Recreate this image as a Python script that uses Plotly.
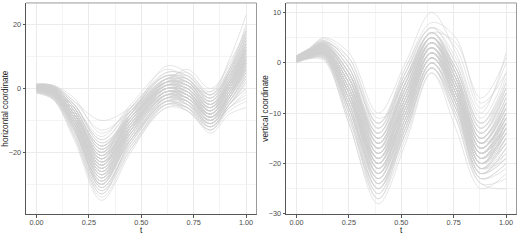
import plotly.graph_objects as go

# ---- data ----
t_horizontal = [0, 0.08, 0.18, 0.31, 0.45, 0.62, 0.72, 0.83, 0.92, 1.0]
horizontal_curves = [
    [0.5, -0.5, -8, -22, -10, 0, -2, -8, 0, 8],
    [1.0, 0.2, -6, -18, -8, 2, 0, -6, 2, 12],
    [-0.5, -2, -11, -28, -14, -2, -4, -10, -3, 5],
    [0.0, -1, -9, -25, -12, -1, -3, -9, -1, 9],
    [1.2, 1.0, -4, -10, -6, 3, 1, -1, 8, 18],
    [-1.0, -3, -14, -32, -17, -4, -6, -12, -5, 2],
    [0.3, -1.5, -10, -26, -11, 1, -1, -7, 1, 10],
    [0.8, 0, -7, -20, -9, 3, 2, -5, 3, 14],
    [-0.2, -1.8, -12, -30, -15, -3, -5, -11, -4, 3],
    [0.6, -0.8, -8, -23, -13, -2, -1, -6, 2, 13],
    [-1.5, -3.5, -16, -35, -20, -5, -6, -13, -6, -2],
    [0.2, -1, -9, -24, -8, 4, 3, -4, 4, 16],
    [1.5, 0.8, -5, -16, -6, 5, 4, -3, 6, 20],
    [0.0, -1.2, -10, -27, -16, -4, -7, -13, -7, -4],
    [-0.8, -2.5, -13, -29, -13, 0, -2, -9, -2, 7],
    [0.4, -0.6, -8, -21, -7, 2, 1, -5, 2, 11],
    [0.9, 0.3, -6, -19, -10, 1, 0, -7, 0, 9],
    [-0.3, -2, -11, -27, -12, -1, -3, -8, 0, 10],
    [0.7, -0.2, -7, -22, -9, 3, 5, -2, 9, 23],
    [-0.6, -2.2, -12, -31, -18, -6, -7, -12, -6, -1],
    [0.1, -1, -9, -24, -11, 0, -2, -8, -1, 8],
    [1.1, 0.5, -5, -17, -9, 2, 1, -6, 1, 12],
    [-1.2, -3, -14, -33, -16, -3, -4, -11, -4, 4],
    [0.5, -0.7, -9, -23, -10, 1, -1, -9, -3, 6],
    [0.0, -1.5, -10, -26, -14, -3, -4, -10, -2, 9],
    [0.9, 0, -7, -20, -6, 4, 2, -4, 5, 17],
    [-0.4, -2, -12, -28, -12, 0, -1, -7, 1, 11],
    [0.3, -0.8, -8, -22, -11, -1, -3, -10, -4, 5],
    [0.6, -0.3, -7, -21, -8, 2, 6, 0, 7, 19],
    [-0.9, -2.8, -13, -30, -14, -2, -4, -12, -5, 3],
    [0.2, -1.2, -10, -25, -13, -2, -3, -9, -2, 8],
    [1.3, 0.6, -5, -15, -5, 6, 3, -3, 5, 15],
    [-0.1, -1.6, -11, -27, -15, -4, -6, -14, -8, -6],
    [0.4, -0.5, -8, -22, -9, 1, -1, -7, 1, 11],
    [0.8, 0.1, -6, -19, -7, 3, 2, -5, 4, 14],
    [-0.7, -2.4, -12, -29, -16, -5, -7, -13, -5, 1],
    [0.1, -1.1, -9, -24, -10, 0, -2, -8, 0, 10],
    [0.5, -0.6, -8, -23, -12, -1, -2, -6, 3, 15],
    [-0.3, -1.9, -11, -28, -13, -1, -3, -9, -3, 6],
    [1.0, 0.4, -6, -18, -8, 7, 5, -1, 6, 18],
    [0.0, -1.3, -10, -26, -12, -2, -5, -11, -3, 7],
    [0.7, -0.1, -7, -21, -10, 1, 0, -6, 2, 12],
    [-0.5, -2.1, -12, -31, -17, -4, -5, -10, -2, 8],
    [0.3, -0.9, -9, -25, -11, 0, -1, -8, 0, 10],
    [0.6, -0.4, -8, -22, -9, 2, 1, -5, 3, 13],
    [0.4, -0.9, -10, -24, -12, -1, -2, -7, 1, 9],
    [1.0, 0.0, -7, -19, -9, 1, 1, -4, 3, 13],
    [-0.2, -1.5, -11, -29, -16, -3, -3, -10, -3, 6],
    [0.7, -0.4, -8, -20, -8, 3, 3, -3, 5, 16],
    [-1.1, -3.2, -15, -33, -18, -5, -5, -11, -4, 4],
    [0.2, -1.4, -10, -27, -14, -2, -3, -8, -1, 8],
    [1.3, 0.9, -4, -13, -7, 2, 2, -2, 4, 12],
    [0.0, -1.0, -9, -26, -13, -1, -2, -9, -2, 7],
    [0.5, -0.3, -7, -23, -11, 0, 0, -7, 0, 9],
    [-0.6, -2.6, -13, -32, -19, -6, -6, -12, -5, 0],
    [0.9, 0.2, -6, -18, -7, 4, 3, -4, 4, 15],
    [0.3, -0.8, -9, -24, -10, 2, 1, -6, 1, 10],
    [-0.4, -1.9, -12, -30, -15, -2, -2, -8, 1, 12],
    [0.6, -0.5, -8, -21, -9, 0, -2, -9, -4, 4],
    [1.1, 0.6, -5, -17, -8, 3, 4, -2, 6, 17],
    [0.1, -1.2, -10, -25, -12, -3, -5, -12, -6, -3],
    [-0.9, -2.7, -13, -29, -14, -1, -2, -9, -1, 9],
    [0.4, -0.6, -8, -22, -10, 2, 2, -5, 2, 12],
    [0.8, 0.0, -7, -20, -9, 0, -1, -8, -2, 6],
    [-0.2, -1.7, -11, -28, -16, -4, -4, -10, -2, 8],
    [0.5, -0.7, -9, -24, -11, 1, 1, -6, 3, 14],
    [1.4, 1.0, -3, -14, -6, 4, 2, -3, 4, 13],
    [-0.3, -2.0, -12, -31, -17, -5, -6, -11, -3, 5],
    [0.2, -1.1, -9, -23, -9, 1, 0, -7, 0, 10],
    [0.7, -0.3, -8, -21, -10, 2, 3, -4, 5, 18],
    [-0.7, -2.3, -13, -30, -13, 0, -1, -8, 0, 10],
    [0.0, -1.4, -10, -26, -14, -3, -4, -11, -5, 2],
    [0.9, 0.3, -6, -19, -8, 3, 1, -6, 1, 11],
    [0.3, -0.9, -9, -25, -12, -1, -2, -9, -2, 7],
    [-0.5, -2.0, -11, -27, -12, 1, 0, -7, 2, 13],
    [1.2, 0.7, -5, -16, -7, 2, 0, -5, 1, 9],
    [0.1, -1.3, -10, -26, -13, -2, -3, -10, -3, 6],
    [-1.3, -3.3, -15, -34, -19, -4, -4, -10, -2, 6],
    [0.6, -0.4, -8, -22, -10, 1, 2, -5, 3, 14],
    [0.4, -0.8, -9, -24, -11, 0, -1, -8, -1, 8],
    [-0.1, -1.6, -11, -28, -15, -2, -3, -9, -2, 8],
    [0.8, 0.1, -7, -20, -8, 5, 4, -2, 5, 16],
    [0.2, -1.0, -9, -23, -12, -2, -4, -11, -5, 0],
    [-0.8, -2.5, -12, -30, -16, -3, -3, -9, -1, 9],
    [1.0, 0.3, -6, -18, -9, 1, 0, -6, 2, 12],
    [0.5, -0.5, -8, -22, -9, 2, 1, -5, 2, 11],
    [-0.2, -1.8, -11, -27, -13, -1, -2, -8, 0, 10],
    [0.3, -0.7, -9, -24, -10, 0, -1, -7, 1, 10],
    [0.7, -0.2, -7, -21, -11, -1, -3, -9, -2, 7],
    [0.0, -1.4, -10, -25, -12, 0, -1, -7, 2, 12],
]

t_vertical = [0, 0.06, 0.13, 0.25, 0.39, 0.52, 0.645, 0.76, 0.88, 1.0]
vertical_curves = [
    [0.8, 1.8, 2.5, -5, -19, -8, 3, -5, -17, -10],
    [1.2, 2.5, 3.5, -2, -15, -5, 5, -2, -14, -6],
    [0.3, 1.2, 1.5, -8, -23, -11, 1, -7, -20, -14],
    [1.0, 2.0, 3.0, -4, -18, -6, 4, -4, -16, -8],
    [0.5, 1.5, 2.0, -7, -21, -10, 2, -6, -19, -12],
    [1.4, 2.8, 4.5, 0, -12, -2, 6, 0, -12, -3],
    [0.2, 1.0, 1.0, -10, -26, -14, -1, -10, -22, -18],
    [0.9, 1.9, 2.8, -5, -20, -7, 4, -3, -15, -9],
    [0.6, 1.6, 2.2, -6, -17, -4, 5, -5, -18, -11],
    [1.1, 2.3, 3.8, -3, -14, -3, 3, -8, -21, -16],
    [0.0, 0.8, 0.5, -12, -28, -16, -2, -13, -25, -22],
    [1.3, 2.6, 5.0, 2, -10, 0, 10, 2, -10, 2],
    [0.7, 1.7, 2.4, -6, -22, -9, 2, -5, -18, -13],
    [1.0, 2.1, 3.2, -3, -16, -5, 4, -2, -15, -7],
    [0.4, 1.3, 1.8, -8, -24, -12, 0, -8, -21, -15],
    [1.2, 2.4, 3.6, -2, -13, -1, 7, 3, -9, 0],
    [0.8, 1.8, 2.6, -5, -19, -8, 3, -6, -19, -12],
    [0.5, 1.4, 2.0, -7, -20, -9, 1, -7, -20, -14],
    [1.1, 2.2, 3.4, -3, -17, -6, 5, -3, -16, -9],
    [0.3, 1.1, 1.4, -9, -25, -13, -1, -9, -23, -20],
    [0.9, 2.0, 2.9, -4, -18, -7, 3, -4, -17, -10],
    [1.4, 2.7, 4.2, -1, -15, -4, 6, -1, -13, -4],
    [0.6, 1.5, 2.1, -7, -21, -10, 2, -6, -18, -11],
    [0.2, 1.0, 1.2, -10, -27, -15, -2, -11, -24, -25],
    [1.0, 2.0, 3.0, -4, -17, -5, 4, -5, -19, -15],
    [0.7, 1.7, 2.5, -6, -22, -11, 1, -5, -16, -8],
    [1.2, 2.5, 3.9, -2, -14, -3, 5, -2, -14, -5],
    [0.4, 1.3, 1.7, -8, -23, -12, 0, -9, -22, -17],
    [0.9, 1.9, 2.7, -5, -19, -8, 3, -4, -17, -11],
    [0.5, 1.5, 2.1, -6, -20, -8, 2, -7, -20, -13],
    [1.1, 2.3, 3.5, -3, -16, -4, 5, -3, -15, -7],
    [0.1, 0.9, 0.8, -11, -25, -12, 0, -8, -21, -19],
    [0.8, 1.8, 2.6, -5, -18, -6, 4, -4, -18, -12],
    [1.3, 2.6, 4.0, -1, -12, -1, 8, 5, -8, -2],
    [0.6, 1.6, 2.3, -6, -21, -9, 2, -6, -19, -14],
    [1.0, 2.1, 3.1, -4, -17, -6, 4, -3, -16, -9],
    [0.3, 1.2, 1.6, -9, -24, -13, -1, -10, -23, -21],
    [0.9, 2.0, 2.8, -4, -19, -7, 3, -5, -17, -10],
    [0.5, 1.4, 1.9, -7, -22, -10, 1, -6, -19, -13],
    [1.2, 2.4, 3.7, -2, -15, -4, 6, -2, -14, -6],
    [0.7, 1.6, 2.3, -6, -20, -9, 2, -5, -18, -12],
    [1.0, 2.2, 3.3, -3, -16, -5, 5, -4, -17, -11],
    [0.4, 1.3, 1.8, -8, -23, -11, 1, -7, -20, -16],
    [0.8, 1.9, 2.6, -5, -18, -7, 3, -5, -18, -10],
    [0.6, 1.5, 2.2, -6, -21, -10, 2, -6, -20, -13],
    [0.9, 2.0, 3.2, -3, -17, -9, 2, -6, -18, -12],
    [0.4, 1.4, 1.6, -9, -22, -8, 4, -3, -16, -9],
    [1.1, 2.4, 4.0, 1, -11, -6, 5, -1, -12, -5],
    [0.7, 1.6, 2.2, -6, -24, -14, 0, -9, -22, -17],
    [1.3, 2.7, 4.4, 0, -13, -2, 7, 1, -11, -2],
    [0.2, 1.1, 1.3, -11, -26, -12, 1, -6, -19, -12],
    [0.8, 1.9, 2.8, -4, -20, -10, 2, -7, -21, -16],
    [1.0, 2.2, 3.4, -3, -15, -3, 6, -2, -15, -8],
    [0.5, 1.5, 2.0, -7, -19, -6, 3, -4, -17, -11],
    [1.2, 2.5, 3.9, -1, -16, -8, 2, -8, -22, -19],
    [0.3, 1.2, 1.6, -9, -25, -14, -1, -11, -24, -23],
    [0.9, 2.0, 2.9, -4, -17, -5, 5, -3, -16, -10],
    [0.6, 1.6, 2.4, -6, -21, -9, 3, -5, -18, -13],
    [1.4, 2.9, 4.8, 1, -12, -3, 6, 4, -7, 1],
    [0.1, 0.9, 0.9, -12, -27, -13, 0, -7, -20, -15],
    [0.8, 1.8, 2.6, -5, -18, -8, 4, -4, -17, -11],
    [1.0, 2.1, 3.1, -3, -19, -10, 1, -7, -20, -14],
    [0.5, 1.4, 1.9, -7, -23, -12, 0, -8, -21, -18],
    [1.2, 2.5, 3.8, -2, -14, -2, 7, 0, -12, -4],
    [0.7, 1.7, 2.5, -5, -20, -8, 3, -5, -19, -13],
    [0.3, 1.1, 1.4, -9, -22, -9, 2, -5, -18, -12],
    [1.1, 2.3, 3.6, -2, -16, -6, 4, -4, -17, -10],
    [0.6, 1.5, 2.1, -6, -19, -7, 4, -3, -16, -9],
    [0.9, 1.9, 2.8, -4, -21, -11, 1, -8, -23, -20],
    [1.3, 2.6, 4.1, -1, -14, -4, 5, -1, -13, -6],
    [0.4, 1.3, 1.7, -8, -24, -13, -1, -9, -21, -15],
    [0.8, 1.8, 2.7, -5, -18, -7, 4, -5, -19, -14],
    [1.0, 2.2, 3.3, -3, -15, -5, 5, -2, -14, -7],
    [0.2, 1.0, 1.1, -10, -25, -11, 1, -7, -20, -13],
    [0.7, 1.7, 2.4, -6, -20, -9, 3, -6, -18, -12],
    [1.2, 2.4, 3.7, -2, -17, -7, 3, -5, -18, -11],
    [0.5, 1.4, 2.0, -7, -22, -11, 1, -7, -20, -15],
    [0.9, 2.1, 3.0, -4, -16, -4, 6, -1, -13, -5],
    [0.6, 1.6, 2.3, -6, -19, -8, 2, -6, -19, -12],
    [1.1, 2.3, 3.5, -3, -18, -8, 3, -4, -17, -10],
    [0.3, 1.2, 1.5, -9, -23, -10, 2, -6, -20, -16],
    [0.8, 1.9, 2.7, -5, -21, -10, 1, -7, -21, -17],
    [1.0, 2.0, 3.1, -3, -15, -4, 5, -3, -15, -8],
    [0.4, 1.3, 1.8, -8, -20, -7, 3, -4, -17, -10],
    [1.3, 2.7, 4.3, 0, -13, -3, 6, -2, -16, -12],
    [0.6, 1.5, 2.2, -6, -22, -12, 0, -8, -22, -19],
    [0.9, 1.9, 2.9, -4, -17, -6, 4, -3, -16, -9],
    [0.5, 1.4, 2.0, -7, -19, -8, 2, -5, -18, -13],
    [1.1, 2.2, 3.4, -2, -16, -5, 5, -3, -15, -8],
    [0.7, 1.8, 2.6, -5, -20, -9, 2, -6, -19, -14],
]

x_tick_vals = [0, 0.25, 0.5, 0.75, 1.0]
x_tick_text = ["0.00", "0.25", "0.50", "0.75", "1.00"]
h_tick_vals = [-20, 0, 20]
v_tick_vals = [-30, -20, -10, 0, 10]

LINE_COLOR = "#cfcfcf"
FONT = "Liberation Sans, Arial, sans-serif"

fig = go.Figure()
for c in horizontal_curves:
    fig.add_trace(go.Scatter(x=t_horizontal, y=c, mode="lines",
                             line=dict(color=LINE_COLOR, width=0.55, shape="spline", smoothing=1.0),
                             xaxis="x", yaxis="y", showlegend=False, hoverinfo="skip"))
for c in vertical_curves:
    fig.add_trace(go.Scatter(x=t_vertical, y=c, mode="lines",
                             line=dict(color=LINE_COLOR, width=0.55, shape="spline", smoothing=1.0),
                             xaxis="x2", yaxis="y2", showlegend=False, hoverinfo="skip"))

ydom = [22 / 240, 237 / 240]
xdom1 = [26 / 520, 256.5 / 520]
xdom2 = [286 / 520, 516.5 / 520]

common_x = dict(range=[-0.05, 1.05], tickvals=x_tick_vals, ticktext=x_tick_text,
                showgrid=True, gridcolor="#ebebeb", gridwidth=1,
                minor=dict(showgrid=True, gridcolor="#f4f4f4", gridwidth=0.6, dtick=0.125, tick0=0.125),
                showline=True, linecolor="#555555", linewidth=1,
                ticks="outside", ticklen=2.5, tickcolor="#555555", tickwidth=1,
                ticklabelstandoff=-2,
                tickfont=dict(size=7.3, color="#4d4d4d", family=FONT),
                zeroline=False, fixedrange=True)
common_y = dict(showgrid=True, gridcolor="#ebebeb", gridwidth=1,
                showline=True, linecolor="#555555", linewidth=1,
                ticks="outside", ticklen=2.5, tickcolor="#555555", tickwidth=1,
                tickfont=dict(size=7.3, color="#4d4d4d", family=FONT),
                zeroline=False, fixedrange=True)

fig.update_layout(
    width=520, height=240,
    margin=dict(l=0, r=0, t=0, b=0),
    paper_bgcolor="white", plot_bgcolor="white",
    font=dict(family=FONT, color="#333333"),
    xaxis=dict(domain=xdom1, anchor="y", **common_x),
    xaxis2=dict(domain=xdom2, anchor="y2", **common_x),
    yaxis=dict(domain=ydom, anchor="x", range=[-39.4, 26.8], tickvals=h_tick_vals,
               minor=dict(showgrid=True, gridcolor="#f4f4f4", gridwidth=0.6, tickvals=[-30, -10, 10]),
               **common_y),
    yaxis2=dict(domain=ydom, anchor="x2", range=[-30.1, 11.9], tickvals=v_tick_vals,
                minor=dict(showgrid=True, gridcolor="#f4f4f4", gridwidth=0.6, tickvals=[-25, -15, -5, 5]),
                **common_y),
    showlegend=False,
)

# top/right panel borders (lighter grey)
for xd in (xdom1, xdom2):
    fig.add_shape(type="line", xref="paper", yref="paper", x0=xd[0], x1=xd[1], y0=ydom[1], y1=ydom[1],
                  line=dict(color="#9a9a9a", width=1))
    fig.add_shape(type="line", xref="paper", yref="paper", x0=xd[1], x1=xd[1], y0=ydom[0], y1=ydom[1],
                  line=dict(color="#9a9a9a", width=1))

# axis titles
for xd, ytitle in ((xdom1, "horizontal coordinate"), (xdom2, "vertical coordinate")):
    fig.add_annotation(text="t", xref="paper", yref="paper", x=(xd[0] + xd[1]) / 2, y=0,
                       showarrow=False, font=dict(size=8.2, color="#222222", family=FONT),
                       xanchor="center", yanchor="bottom", borderpad=0, yshift=0)
    fig.add_annotation(text=ytitle, xref="paper", yref="paper", x=(xd[0] - 20 / 520), y=(ydom[0] + ydom[1]) / 2,
                       showarrow=False, textangle=-90, font=dict(size=8.2, color="#222222", family=FONT),
                       xanchor="center", yanchor="middle")

fig.write_html("out.html", config={"displayModeBar": False},
               post_script="document.body.style.margin='0';document.body.style.padding='0';"
                           "document.body.style.overflow='hidden';")
